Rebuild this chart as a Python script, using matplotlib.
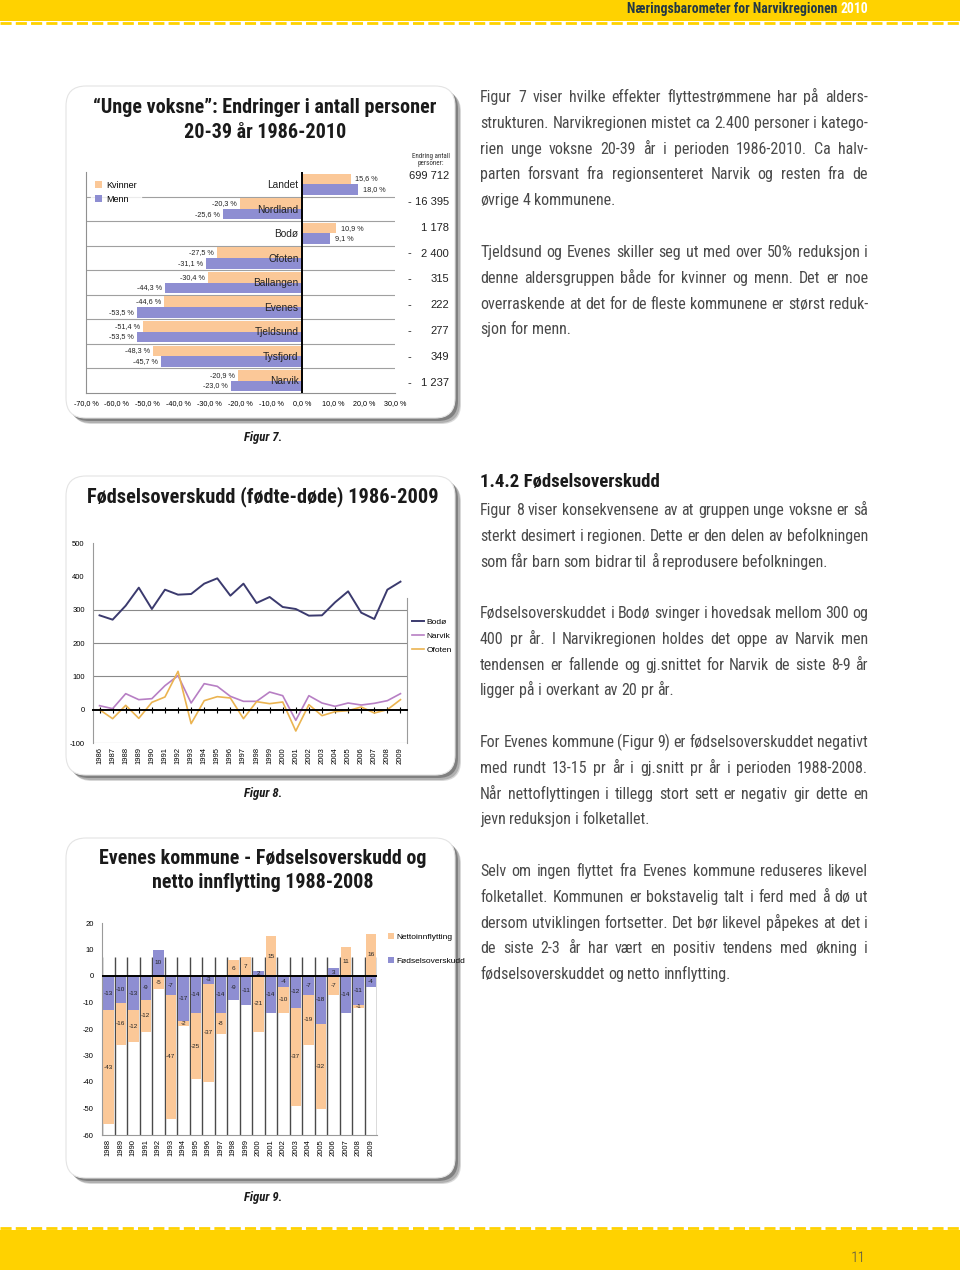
import matplotlib
matplotlib.use('Agg')
import matplotlib.pyplot as plt
import matplotlib.font_manager as fm
from matplotlib.patches import FancyBboxPatch, Rectangle
import numpy as np

# ---- data: figur 7 -------------------------------------------------
regions = ['Landet', 'Nordland', 'Bodø', 'Ofoten', 'Ballangen', 'Evenes',
           'Tjeldsund', 'Tysfjord', 'Narvik']
kvinner = [15.6, -20.3, 10.9, -27.5, -30.4, -44.6, -51.4, -48.3, -20.9]
menn = [18.0, -25.6, 9.1, -31.1, -44.3, -53.5, -53.5, -45.7, -23.0]
endring = [699712, -16395, 1178, -2400, -315, -222, -277, -349, -1237]

# ---- data: figur 8 -------------------------------------------------
years8 = list(range(1986, 2010))
bodo = [283, 270, 312, 366, 302, 360, 345, 347, 378, 394, 342, 378,
        320, 338, 308, 302, 282, 283, 322, 355, 291, 272, 360, 384]
narvik = [12, 3, 48, 30, 33, 72, 102, 20, 78, 70, 40, 25,
          25, 53, 42, -32, 42, 20, 10, 20, 14, 19, 27, 48]
ofoten = [0, -27, 13, -26, 22, 38, 115, -42, 27, 39, 35, -27,
          24, 18, 23, -64, 15, -18, -6, -3, 8, -10, 0, 30]

# ---- data: figur 9 -------------------------------------------------
years9 = list(range(1988, 2010))
fodsel = [-13, -10, -13, -9, 10, -7, -17, -14, -3, -14, -9,
          -11, 2, -14, -4, -12, -7, -18, 3, -14, -11, -4]
netto = [-43, -16, -12, -12, -5, -47, -2, -25, -37, -8, 6,
         7, -21, 15, -10, -37, -19, -32, -7, 11, -1, 16]

# ---- text ----------------------------------------------------------
paragraphs = [
    (97, ["Figur 7 viser hvilke effekter flyttestrømmene har på alders-",
          "strukturen. Narvikregionen mistet ca 2.400 personer i katego-",
          "rien unge voksne 20-39 år i perioden 1986-2010. Ca halv-",
          "parten forsvant fra regionsenteret Narvik og resten fra de",
          "øvrige 4 kommunene."]),
    (252, ["Tjeldsund og Evenes skiller seg ut med over 50% reduksjon i",
           "denne aldersgruppen både for kvinner og menn. Det er noe",
           "overraskende at det for de fleste kommunene er størst reduk-",
           "sjon for menn."]),
    (510, ["Figur 8 viser konsekvensene av at gruppen unge voksne er så",
           "sterkt desimert i regionen. Dette er den delen av befolkningen",
           "som får barn som bidrar til å reprodusere befolkningen."]),
    (613, ["Fødselsoverskuddet i Bodø svinger i hovedsak mellom 300 og",
           "400 pr år. I Narvikregionen holdes det oppe av Narvik men",
           "tendensen er fallende og gj.snittet for Narvik de siste 8-9 år",
           "ligger på i overkant av 20 pr år."]),
    (742, ["For Evenes kommune (Figur 9) er fødselsoverskuddet negativt",
           "med rundt 13-15 pr år i gj.snitt pr år i perioden 1988-2008.",
           "Når nettoflyttingen i tillegg stort sett er negativ gir dette en",
           "jevn reduksjon i folketallet."]),
    (871, ["Selv om ingen flyttet fra Evenes kommune reduseres likevel",
           "folketallet. Kommunen er bokstavelig talt i ferd med å dø ut",
           "dersom utviklingen fortsetter. Det bør likevel påpekes at det i",
           "de siste 2-3 år har vært en positiv tendens med økning i",
           "fødselsoverskuddet og netto innflytting."]),
]

# colours
YELLOW = '#ffd200'
ORANGE = '#fbc898'
BLUE = '#8e8ed2'
TXT = '#4a4a4a'

fonts = fm.fontManager.ttflist
names = {f.name for f in fonts}


def pick_narrow():
    for n in ['Liberation Sans Narrow', 'Roboto Condensed', 'Noto Sans Condensed',
              'Open Sans Condensed', 'DejaVu Sans Condensed']:
        if n in names:
            return dict(family=n)
    for fam in ['Noto Sans', 'Open Sans', 'Roboto', 'DejaVu Sans']:
        if any(f.name == fam and f.stretch in ('condensed', 'semi-condensed', 'extra-condensed')
               for f in fonts):
            return dict(family=fam, stretch='condensed')
    for fam in ['Roboto', 'Liberation Sans']:
        if fam in names:
            return dict(family=fam)
    return dict(family='DejaVu Sans')


NARROW = pick_narrow()
ARIAL = 'Liberation Sans' if 'Liberation Sans' in names else 'DejaVu Sans'
plt.rcParams['font.family'] = [ARIAL, 'DejaVu Sans']
plt.rcParams['axes.unicode_minus'] = False

W, H = 960, 1270
fig = plt.figure(figsize=(W / 100, H / 100), dpi=100)
renderer = fig.canvas.get_renderer()

bg = fig.add_axes([0, 0, 1, 1])
bg.set_xlim(0, W)
bg.set_ylim(H, 0)
bg.axis('off')
bg.set_zorder(-5)


def px_axes(x0, y0, x1, y1):
    return fig.add_axes([x0 / W, 1 - y1 / H, (x1 - x0) / W, (y1 - y0) / H])


def text_w(s, **kw):
    t = bg.text(0, 0, s, **kw)
    w = t.get_window_extent(renderer).width
    t.remove()
    return w


def fit_size(s, width, cap=None, **kw):
    size = 10 * width / text_w(s, fontsize=10, **kw)
    return min(size, cap) if cap else size


def fit_text(x, y, s, width, cap=None, **kw):
    return bg.text(x, y, s, fontsize=fit_size(s, width, cap, **kw), **kw)


# ---- page bands ----------------------------------------------------
bg.add_patch(Rectangle((0, 0), W, 21, fc=YELLOW, ec='none'))
bg.plot([0, W], [23, 23], color=YELLOW, lw=2, ls=(0, (4, 1.5)))
bg.add_patch(Rectangle((0, 1230), W, 40, fc=YELLOW, ec='none'))
bg.plot([0, W], [1228, 1228], color=YELLOW, lw=2, ls=(0, (4, 1.5)))
bg.text(866, 1258, '11', fontsize=11, color='#4d4d4d', ha='right', va='center',
        weight='light', **NARROW)

hdr_kw = dict(weight='bold', va='center', **NARROW)
hsize = fit_size('Næringsbarometer for Narvikregionen 2010', 240, 10, **hdr_kw)
w2010 = text_w('2010', fontsize=hsize, **hdr_kw)
bg.text(868, 9, '2010', fontsize=hsize, color='white', ha='right', **hdr_kw)
bg.text(868 - w2010 - 3, 9, 'Næringsbarometer for Narvikregionen', fontsize=hsize,
        color='#233845', ha='right', **hdr_kw)


# ---- panels --------------------------------------------------------
def panel(x0, y0, x1, y1):
    for off, col in [(6, '#d8d8d8'), (5, '#b0b0b0'), (3, '#808080')]:
        bg.add_patch(FancyBboxPatch((x0 + off, y0 + off), x1 - x0, y1 - y0,
                                    boxstyle='round,pad=0,rounding_size=20',
                                    fc=col, ec='none'))
    bg.add_patch(FancyBboxPatch((x0, y0), x1 - x0, y1 - y0,
                                boxstyle='round,pad=0,rounding_size=20',
                                fc='white', ec='#e4e4e4', lw=0.8))


panel(66, 86, 455, 418)
panel(66, 476, 455, 775)
panel(66, 838, 455, 1178)

title_kw = dict(weight='bold', color='#1a1a1a', ha='center', va='center', **NARROW)
t1size = fit_size('“Unge voksne”: Endringer i antall personer', 350, 14.5, **title_kw)
bg.text(265, 107, '“Unge voksne”: Endringer i antall personer', fontsize=t1size, **title_kw)
bg.text(265, 132, '20-39 år 1986-2010', fontsize=t1size, **title_kw)
fit_text(263, 497, 'Fødselsoverskudd (fødte-døde) 1986-2009', 352, 15, **title_kw)
t3size = fit_size('Evenes kommune - Fødselsoverskudd og', 328, 15, **title_kw)
bg.text(263, 858, 'Evenes kommune - Fødselsoverskudd og', fontsize=t3size, **title_kw)
bg.text(263, 883, 'netto innflytting 1988-2008', fontsize=t3size, **title_kw)

cap_kw = dict(weight='bold', style='italic', color='#1a1a1a',
              ha='center', va='center', **NARROW)
csize = fit_size('Figur 7.', 38, 11, **cap_kw)
bg.text(263, 438, 'Figur 7.', fontsize=csize, **cap_kw)
bg.text(263, 793, 'Figur 8.', fontsize=csize, **cap_kw)
bg.text(263, 1197, 'Figur 9.', fontsize=csize, **cap_kw)

# ---- figur 7 -------------------------------------------------------
ax1 = px_axes(86, 172, 395, 393)
pos = np.arange(len(regions))
ax1.barh(pos - 0.215, kvinner, height=0.43, color=ORANGE, label='Kvinner', zorder=2)
ax1.barh(pos + 0.215, menn, height=0.43, color=BLUE, label='Menn', zorder=2)
ax1.set_xlim(-70, 30)
ax1.set_ylim(len(regions) - 0.5, -0.5)
ax1.hlines(pos[:-1] + 0.5, -70, 30, color='#a0a0a0', lw=0.8, zorder=1)
ax1.axvline(0, color='black', lw=1.4, zorder=3)
for i, (k, m) in enumerate(zip(kvinner, menn)):
    for v, yy in [(k, i - 0.215), (m, i + 0.215)]:
        lab = f'{v:.1f} %'.replace('.', ',')
        if v > 0:
            ax1.text(v + 1.5, yy, lab, ha='left', va='center', fontsize=5.2, color='#222')
        else:
            ax1.text(v - 1.0, yy, lab, ha='right', va='center', fontsize=5.2, color='#222')
    ax1.text(-1.2, i + 0.03, regions[i], ha='right', va='center', fontsize=7.3,
             color='#222', zorder=4)
ticks1 = np.arange(-70, 31, 10)
ax1.set_xticks(ticks1, [f'{t:.1f} %'.replace('.', ',') for t in ticks1])
ax1.set_yticks([])
ax1.tick_params(axis='x', length=0, labelsize=5.2, pad=5)
for s in ['top', 'right']:
    ax1.spines[s].set_visible(False)
for s in ['left', 'bottom']:
    ax1.spines[s].set_color('#909090')
    ax1.spines[s].set_linewidth(0.8)
leg1 = ax1.legend(loc='upper left', bbox_to_anchor=(0.0, 1.0), fontsize=6.5,
                  handlelength=0.8, handleheight=0.8, handletextpad=0.4,
                  labelspacing=0.55, frameon=True, fancybox=False,
                  borderpad=0.5, edgecolor='white')
leg1.get_frame().set_facecolor('white')
leg1.set_zorder(5)

bg.text(431, 160, 'Endring antall\npersoner:', fontsize=5, ha='center', va='center',
        color='#333', linespacing=0.9, **NARROW)
for yy, v in zip(np.linspace(176, 383, len(endring)), endring):
    num = f'{abs(v):,}'.replace(',', ' ')
    bg.text(449, yy, num, ha='right', va='center', fontsize=8, color='#222')
    if v < 0:
        bg.text(407, yy, '-', ha='left', va='center', fontsize=8, color='#222')

# ---- figur 8 -------------------------------------------------------
ax2 = px_axes(93, 543, 407, 743)
l_bodo, = ax2.plot(years8, bodo, color='#3b3a6e', lw=1.4, label='Bodø', zorder=3)
l_narv, = ax2.plot(years8, narvik, color='#b77fc4', lw=1.2, label='Narvik', zorder=3)
l_ofot, = ax2.plot(years8, ofoten, color='#ebb451', lw=1.2, label='Ofoten', zorder=3)
ax2.set_xlim(1985.5, 2009.5)
ax2.set_ylim(-100, 500)
ax2.set_yticks(np.arange(-100, 501, 100))
ax2.hlines([100, 200, 300], 1985.5, 2009.5, color='#8a8a8a', lw=0.8, zorder=1)
ax2.spines['bottom'].set_position(('data', 0))
ax2.spines['bottom'].set_color('black')
ax2.spines['bottom'].set_linewidth(1.4)
ax2.spines['bottom'].set_zorder(4)
ax2.spines['top'].set_visible(False)
ax2.spines['right'].set_bounds(-100, 335)
ax2.spines['right'].set_color('#9a9a9a')
ax2.spines['left'].set_color('#9a9a9a')
ax2.set_xticks(years8)
ax2.tick_params(axis='x', direction='inout', length=4, width=0.8, labelbottom=False)
ax2.tick_params(axis='y', length=0, labelsize=5.5, pad=6)
ax2.axhline(-100, color='#9a9a9a', lw=0.8)
sec2 = ax2.secondary_xaxis(0.0)
sec2.set_xticks(years8, [str(y) for y in years8], rotation=90)
sec2.tick_params(length=0, labelsize=5.5, pad=3)
sec2.spines['bottom'].set_visible(False)
fig.legend(handles=[l_bodo, l_narv, l_ofot], loc='upper left',
           bbox_to_anchor=(408 / W, 1 - 614 / H), fontsize=6, frameon=False,
           handlelength=1.4, handletextpad=0.3, labelspacing=0.75, borderpad=0)

# ---- figur 9 -------------------------------------------------------
ax3 = px_axes(102, 923, 377, 1135)
x9 = np.arange(len(years9))
fodsel_a = np.array(fodsel)
netto_a = np.array(netto)
bottom_n = np.where(np.sign(netto_a) == np.sign(fodsel_a), fodsel_a, 0)
ax3.vlines(np.arange(-0.5, len(years9)), -60, 7, color='#4a4a4a', lw=1.0, zorder=1)
ax3.bar(x9, fodsel_a, width=0.84, color=BLUE, label='Fødselsoverskudd', zorder=2)
ax3.bar(x9, netto_a, width=0.84, bottom=bottom_n, color=ORANGE,
        label='Nettoinnflytting', zorder=2)
for i in x9:
    ax3.text(i, fodsel_a[i] / 2, str(fodsel_a[i]), ha='center', va='center',
             fontsize=4.6, color='#222', zorder=4)
    ax3.text(i, bottom_n[i] + netto_a[i] / 2, str(netto_a[i]), ha='center',
             va='center', fontsize=4.6, color='#222', zorder=4)
ax3.axhline(0, color='black', lw=1.4, zorder=3)
ax3.set_xlim(-0.5, len(years9) - 0.5)
ax3.set_ylim(-60, 20)
ax3.set_yticks(np.arange(-60, 21, 10))
ax3.set_xticks(x9, [str(y) for y in years9], rotation=90)
ax3.tick_params(axis='x', length=0, labelsize=5.5, pad=3)
ax3.tick_params(axis='y', length=0, labelsize=5.5, pad=6)
for s in ['top', 'right']:
    ax3.spines[s].set_visible(False)
for s in ['left', 'bottom']:
    ax3.spines[s].set_color('#9a9a9a')
    ax3.spines[s].set_linewidth(0.8)
h3, l3 = ax3.get_legend_handles_labels()
fig.legend(handles=h3[::-1], labels=l3[::-1], loc='upper left',
           bbox_to_anchor=(384 / W, 1 - 929 / H), fontsize=6, frameon=False,
           handlelength=0.7, handleheight=0.7, handletextpad=0.3,
           labelspacing=1.95, borderpad=0)

# ---- body text (justified) ----------------------------------------
TX0, TW = 480, 388
LINE = 25.8
body_kw = dict(color=TXT, va='baseline', **NARROW)
full_lines = [ln for _, lines in paragraphs for ln in lines[:-1]]
size = min(fit_size(ln, TW, **body_kw) for ln in full_lines)
size = min(size, 13.0)
space = text_w('x x', fontsize=size, **body_kw) - 2 * text_w('x', fontsize=size, **body_kw)

for y0, lines in paragraphs:
    for j, ln in enumerate(lines):
        yb = y0 + j * LINE + 5
        words = ln.split(' ')
        widths = [text_w(wd, fontsize=size, **body_kw) for wd in words]
        last = j == len(lines) - 1
        gap = space if last or len(words) < 2 else (TW - sum(widths)) / (len(words) - 1)
        x = TX0
        for wd, ww in zip(words, widths):
            bg.text(x, yb, wd, fontsize=size, **body_kw)
            x += ww + gap

fit_text(480, 482, '1.4.2 Fødselsoverskudd', 181, 15, weight='bold',
         color='#1a1a1a', va='center', **NARROW)

fig.savefig('out.png', dpi=100)
